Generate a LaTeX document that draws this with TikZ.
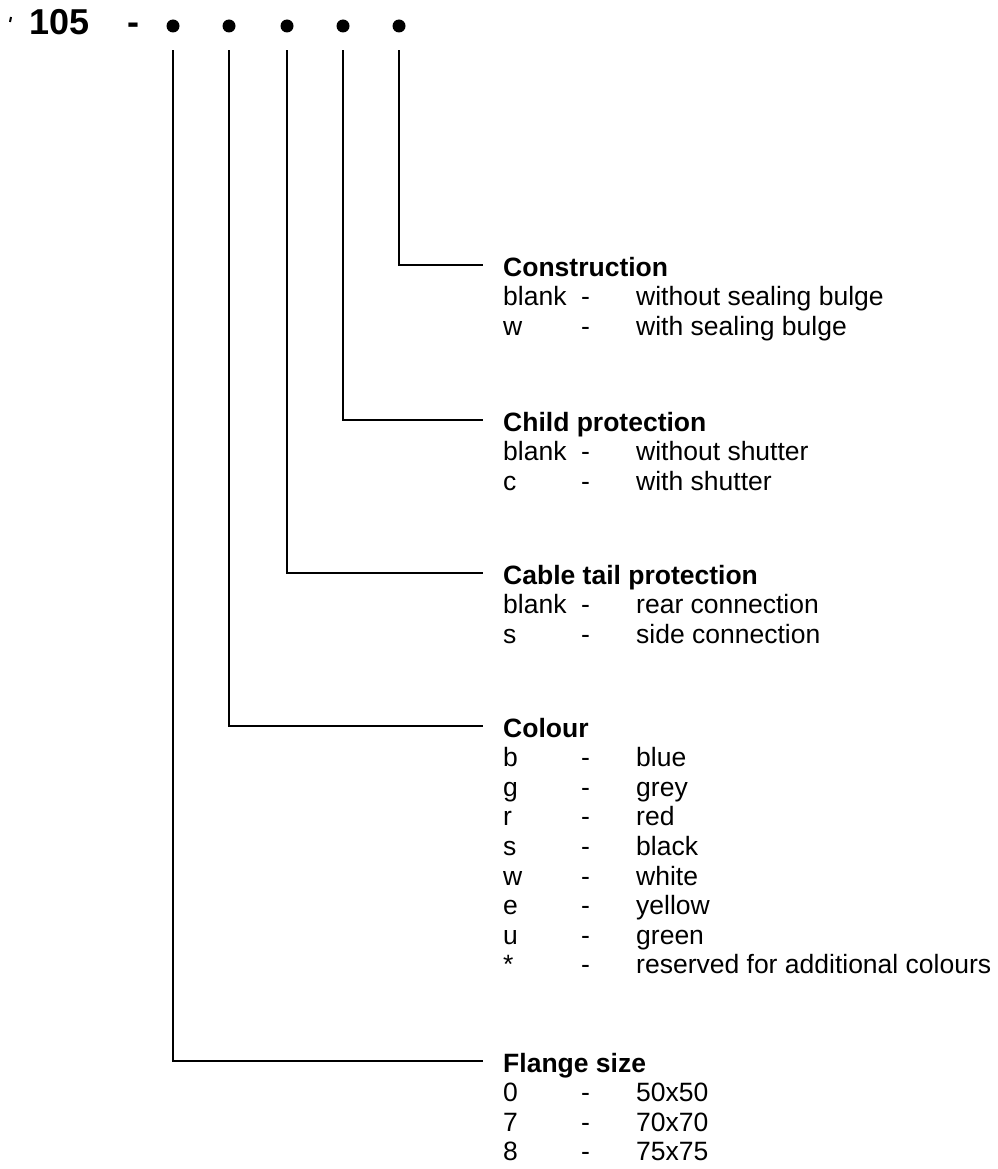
\documentclass[tikz,border=0pt]{standalone}
\usepackage{fontspec}
\setmainfont{Liberation Sans}
\begin{document}
\begin{tikzpicture}[x=1pt,y=-1pt,
  txt/.style={anchor=base west,inner sep=0pt,font=\fontsize{26.5pt}{29.6pt}\selectfont},
  head/.style={txt,font=\fontsize{26.5pt}{29.6pt}\selectfont\bfseries},
  big/.style={anchor=base west,inner sep=0pt,font=\fontsize{36pt}{40pt}\selectfont\bfseries},
  dot/.style={circle,fill=black,inner sep=0pt,minimum size=13pt},
  conn/.style={line width=1.7pt}]
\useasboundingbox (0,0) rectangle (997,1169);
% title line
\draw[line width=2pt] (11,17) -- (10,22);
\node[big] (num) at (29,35) {105};
\node[big] (hy) at (127,35) {-};
\node[dot] (d1) at (173,26) {};
\node[dot] (d2) at (229,26) {};
\node[dot] (d3) at (287,26) {};
\node[dot] (d4) at (343,26) {};
\node[dot] (d5) at (399,26) {};
% elbow ends
\coordinate (e5) at (483,265);
\coordinate (e4) at (483,420);
\coordinate (e3) at (483,573);
\coordinate (e2) at (483,726);
\coordinate (e1) at (483,1061);
\foreach \i in {1,...,5}{
  \draw[conn] ([yshift=-17.5pt]d\i.south) |- (e\i);
}
% headers
\node[head] (h5) at (503,276) {Construction};
\node[head] (h4) at (503,431) {Child protection};
\node[head] (h3) at (503,584) {Cable tail protection};
\node[head] (h2) at (503,737) {Colour};
\node[head] (h1) at (503,1072) {Flange size};
% entries
\foreach [count=\i] \k/\v in {blank/without sealing bulge, w/with sealing bulge}{
  \node[txt] (k5\i) at (503,{276+29.6*\i}) {\k};
  \node[txt] (s5\i) at (581,{276+29.6*\i}) {-};
  \node[txt] (v5\i) at (636,{276+29.6*\i}) {\v};
}
\foreach [count=\i] \k/\v in {blank/without shutter, c/with shutter}{
  \node[txt] (k4\i) at (503,{431+29.6*\i}) {\k};
  \node[txt] (s4\i) at (581,{431+29.6*\i}) {-};
  \node[txt] (v4\i) at (636,{431+29.6*\i}) {\v};
}
\foreach [count=\i] \k/\v in {blank/rear connection, s/side connection}{
  \node[txt] (k3\i) at (503,{584+29.6*\i}) {\k};
  \node[txt] (s3\i) at (581,{584+29.6*\i}) {-};
  \node[txt] (v3\i) at (636,{584+29.6*\i}) {\v};
}
\foreach [count=\i] \k/\v in {b/blue, g/grey, r/red, s/black, w/white, e/yellow, u/green, */reserved for additional colours}{
  \node[txt] (k2\i) at (503,{737+29.6*\i}) {\k};
  \node[txt] (s2\i) at (581,{737+29.6*\i}) {-};
  \node[txt] (v2\i) at (636,{737+29.6*\i}) {\v};
}
\foreach [count=\i] \k/\v in {0/50x50, 7/70x70, 8/75x75}{
  \node[txt] (k1\i) at (503,{1072+29.6*\i}) {\k};
  \node[txt] (s1\i) at (581,{1072+29.6*\i}) {-};
  \node[txt] (v1\i) at (636,{1072+29.6*\i}) {\v};
}
\end{tikzpicture}
\end{document}
